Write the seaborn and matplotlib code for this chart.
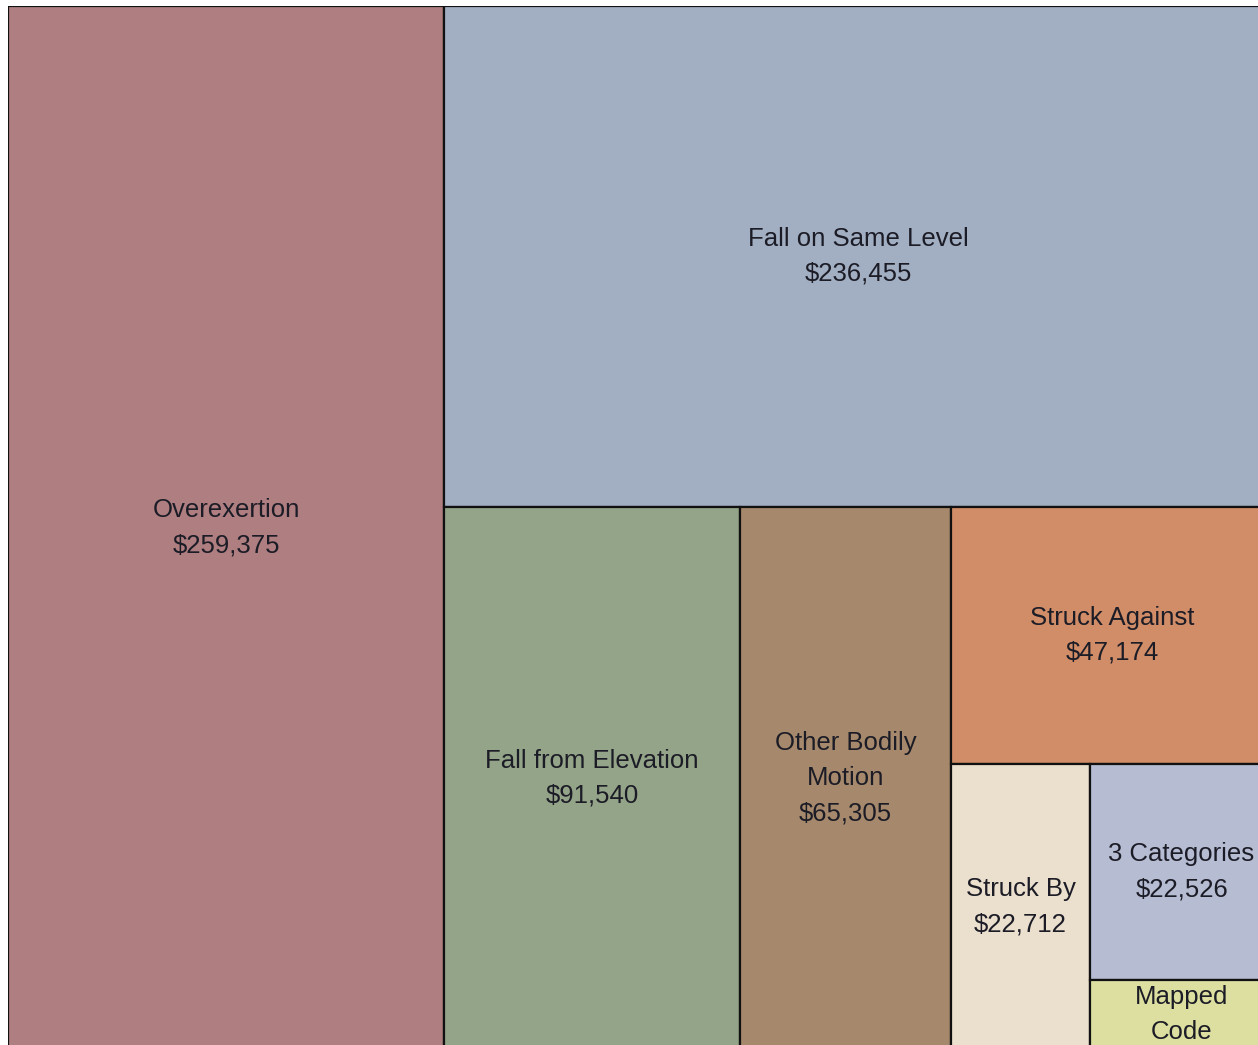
import matplotlib
matplotlib.use("Agg")
import matplotlib.pyplot as plt
import seaborn as sns

# Claim cost by cause of injury
categories = ["Overexertion", "Fall on Same Level", "Fall from Elevation",
              "Other Bodily\nMotion", "Struck Against", "Struck By",
              "3 Categories", "Mapped\nCode"]
costs = [259375, 236455, 91540, 65305, 47174, 22712, 22526, 7300]
show_value = [True, True, True, True, True, True, True, False]
colors = ["#AE7E80", "#A2AFC3", "#93A488", "#A6896C",
          "#D18D68", "#EBDFCD", "#B6BDD3", "#DCDFA0"]
# direction each cell slices off the remaining area: v = left column, h = top strip
split_dirs = ["v", "h", "v", "v", "h", "v", "h", "v"]


def slice_layout(values, dirs, x=0.0, y=0.0, w=1.0, h=1.0):
    rects = []
    remaining = float(sum(values))
    for i, (v, d) in enumerate(zip(values, dirs)):
        if i == len(values) - 1:
            rects.append((x, y, w, h))
            break
        frac = v / remaining
        if d == "v":
            rw = w * frac
            rects.append((x, y, rw, h))
            x += rw
            w -= rw
        else:
            rh = h * frac
            rects.append((x, y + h - rh, w, rh))
            h -= rh
        remaining -= v
    return rects


sns.set_theme(style="white")
plt.rcParams["font.family"] = ["Liberation Sans Narrow", "Liberation Sans", "DejaVu Sans"]

W, H = 1258, 1045
fig = plt.figure(figsize=(W / 100, H / 100), dpi=100)
fig.patch.set_facecolor("white")
# treemap box runs past the right and bottom edges of the picture
ax = fig.add_axes([8 / W, -5 / H, 1265 / W, 1044 / H])
ax.set_xlim(0, 1)
ax.set_ylim(0, 1)
ax.axis("off")

rects = slice_layout(costs, split_dirs)
for (x, y, w, h), name, val, show, col in zip(rects, categories, costs, show_value, colors):
    bar = ax.bar(x, h, width=w, bottom=y, align="edge", color=col,
                 edgecolor="#111111", linewidth=1.6)[0]
    label = f"{name}\n${val:,}" if show else name
    t = ax.text(x + w / 2, y + h / 2, label, ha="center", va="center",
                fontsize=18.5, color="#1c1c26", linespacing=1.58)
    t.set_clip_path(bar)

fig.savefig("out.png", dpi=100, facecolor="white")
